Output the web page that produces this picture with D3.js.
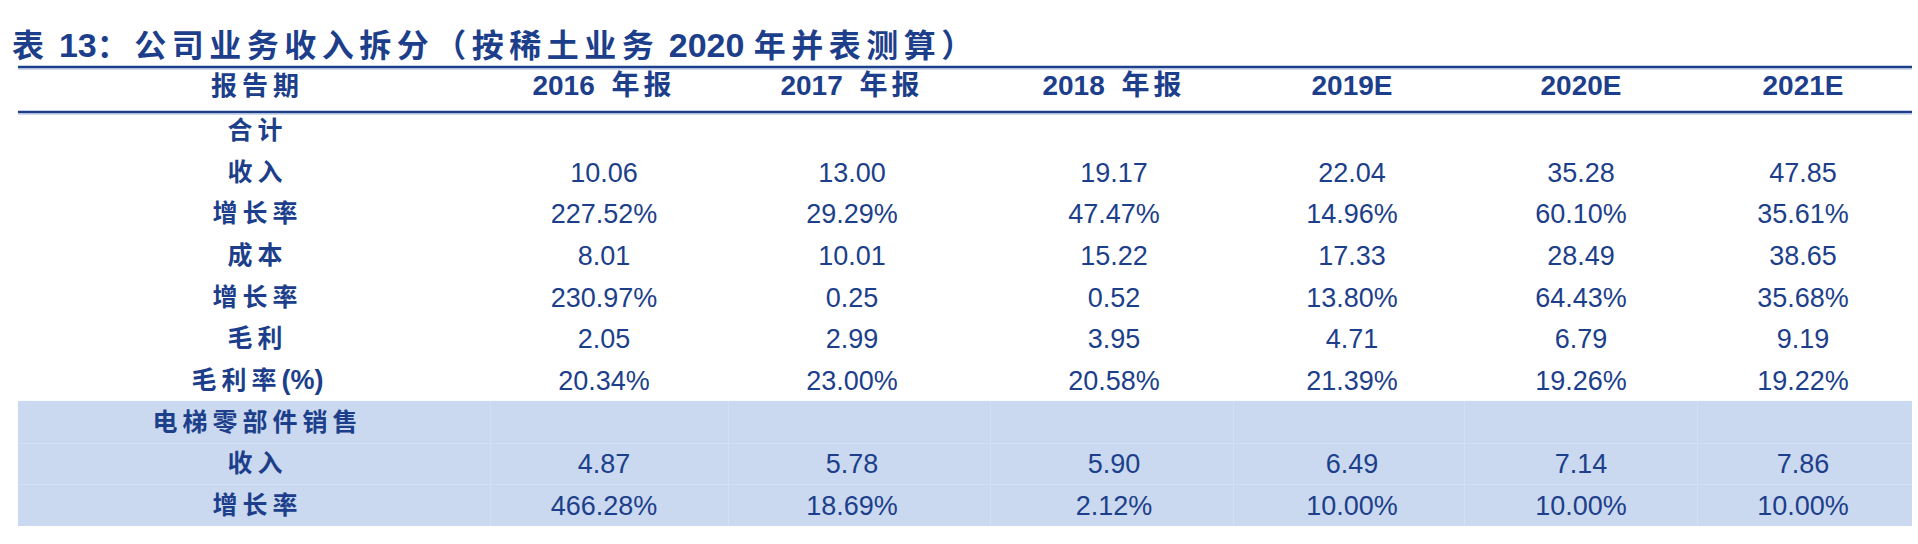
<!DOCTYPE html>
<html>
<head>
<meta charset="utf-8">
<script src="https://cdn.jsdelivr.net/npm/d3@7"></script>
<style>
  html, body { margin: 0; padding: 0; background: #fff; }
  svg { display: block; }
</style>
</head>
<body>
<div id="chart"></div>
<script>
// table data
var title = "表 13：公司业务收入拆分（按稀土业务 2020 年并表测算）";
var headerLabel = "报告期";
var columns = ["2016 年报", "2017 年报", "2018 年报", "2019E", "2020E", "2021E"];
var rowLabels = ["合计", "收入", "增长率", "成本", "增长率", "毛利", "毛利率(%)", "电梯零部件销售", "收入", "增长率"];

var totalRevenue = ["10.06", "13.00", "19.17", "22.04", "35.28", "47.85"];
var totalRevenueGrowth = ["227.52%", "29.29%", "47.47%", "14.96%", "60.10%", "35.61%"];
var totalCost = ["8.01", "10.01", "15.22", "17.33", "28.49", "38.65"];
var totalCostGrowth = ["230.97%", "0.25", "0.52", "13.80%", "64.43%", "35.68%"];
var grossProfit = ["2.05", "2.99", "3.95", "4.71", "6.79", "9.19"];
var grossMargin = ["20.34%", "23.00%", "20.58%", "21.39%", "19.26%", "19.22%"];
var elevatorRevenue = ["4.87", "5.78", "5.90", "6.49", "7.14", "7.86"];
var elevatorGrowth = ["466.28%", "18.69%", "2.12%", "10.00%", "10.00%", "10.00%"];

// rows in display order (null = section heading, no values)
var rowValues = [null, totalRevenue, totalRevenueGrowth, totalCost, totalCostGrowth,
    grossProfit, grossMargin, null, elevatorRevenue, elevatorGrowth];
var shadedFrom = 7; // 电梯零部件销售 block is shaded

var width = 1918, height = 544;
var blue = "#1d3f8b";
var shade = "#cad9ef";
var fontMix = "'Liberation Sans', Arial, 'Noto Sans CJK SC', sans-serif";

var tableLeft = 18, tableRight = 1912;
var labelX = 255;

var x = d3.scaleOrdinal()
    .domain(columns)
    .range([604, 852, 1114, 1352, 1581, 1803]);

var colEdges = [490, 728, 990, 1233, 1464, 1697];

var y = d3.scaleBand()
    .domain(d3.range(rowLabels.length))
    .range([109, 526]);

var svg = d3.select("#chart").append("svg")
    .attr("width", width)
    .attr("height", height);

// split a string into CJK / latin runs so only CJK gets the wide spacing
function addRuns(textSel, str, cjkSpacing, latinSize, cjkGap) {
    var runs = str.match(/[\u3000-\u9fff\uff00-\uffef]+|[^\u3000-\u9fff\uff00-\uffef]+/g);
    runs.forEach(function (r, i) {
        var isCjk = /[\u3000-\u9fff\uff00-\uffef]/.test(r);
        var t = textSel.append("tspan").text(r);
        if (isCjk) {
            t.style("letter-spacing", cjkSpacing + "px");
            if (cjkGap && i > 0) t.attr("dx", cjkGap);
        } else if (latinSize) t.style("font-size", latinSize + "px");
    });
}

// title
var titleText = svg.append("text")
    .attr("x", 12)
    .attr("y", 57)
    .style("font-family", fontMix)
    .style("font-weight", "bold")
    .style("font-size", "32px")
    .style("fill", blue);
addRuns(titleText, title, 5.5, 34);

// shaded block
var bandTop = y(shadedFrom);
svg.append("rect")
    .attr("x", tableLeft)
    .attr("y", bandTop)
    .attr("width", tableRight - tableLeft)
    .attr("height", y.range()[1] - bandTop)
    .attr("fill", shade);

// faint cell borders inside the shaded block
var grid = svg.append("g").attr("stroke", "#d3e0f3").attr("stroke-width", 1);
grid.selectAll("line.v")
    .data(colEdges)
    .enter().append("line")
    .attr("x1", function (d) { return d + 0.5; })
    .attr("x2", function (d) { return d + 0.5; })
    .attr("y1", bandTop)
    .attr("y2", y.range()[1]);
grid.selectAll("line.h")
    .data(d3.range(shadedFrom + 1, rowLabels.length))
    .enter().append("line")
    .attr("x1", tableLeft)
    .attr("x2", tableRight)
    .attr("y1", function (d) { return Math.round(y(d)) + 0.5; })
    .attr("y2", function (d) { return Math.round(y(d)) + 0.5; });

// header rules
[67, 112].forEach(function (ry) {
    svg.append("line")
        .attr("x1", tableLeft).attr("x2", tableRight)
        .attr("y1", ry).attr("y2", ry)
        .attr("stroke", blue)
        .attr("stroke-width", 2.5);
    svg.append("line")
        .attr("x1", tableLeft).attr("x2", tableRight)
        .attr("y1", ry + 2).attr("y2", ry + 2)
        .attr("stroke", "#9fb3d9")
        .attr("stroke-width", 1);
});

// header row
var headerY = 95;
var hl = svg.append("text")
    .attr("x", labelX + 2.5)
    .attr("y", headerY)
    .attr("text-anchor", "middle")
    .style("font-family", fontMix)
    .style("font-weight", "bold")
    .style("font-size", "26px")
    .style("fill", blue);
addRuns(hl, headerLabel, 5);

svg.selectAll("text.col")
    .data(columns)
    .enter().append("text")
    .attr("class", "col")
    .attr("x", function (d) { return x(d); })
    .attr("y", headerY)
    .attr("text-anchor", "middle")
    .style("font-family", fontMix)
    .style("font-weight", "bold")
    .style("font-size", "28px")
    .style("fill", blue)
    .each(function (d) { addRuns(d3.select(this), d, 4, null, 9); });

// row labels
svg.selectAll("text.rowlabel")
    .data(rowLabels)
    .enter().append("text")
    .attr("class", "rowlabel")
    .attr("x", labelX + 2.5)
    .attr("y", function (d, i) { return y(i) + y.bandwidth() / 2 + 9; })
    .attr("text-anchor", "middle")
    .style("font-family", fontMix)
    .style("font-weight", "bold")
    .style("font-size", "25px")
    .style("fill", blue)
    .each(function (d) { addRuns(d3.select(this), d, 5, 27); });

// values
var rows = svg.selectAll("g.row")
    .data(rowValues)
    .enter().append("g")
    .attr("class", "row")
    .attr("transform", function (d, i) { return "translate(0," + (y(i) + y.bandwidth() / 2) + ")"; });

rows.selectAll("text")
    .data(function (d) { return d ? d.map(function (v, j) { return { v: v, col: columns[j] }; }) : []; })
    .enter().append("text")
    .attr("x", function (d) { return x(d.col); })
    .attr("y", 10)
    .attr("text-anchor", "middle")
    .style("font-family", fontMix)
    .style("font-size", "27px")
    .style("fill", blue)
    .text(function (d) { return d.v; });
</script>
</body>
</html>
